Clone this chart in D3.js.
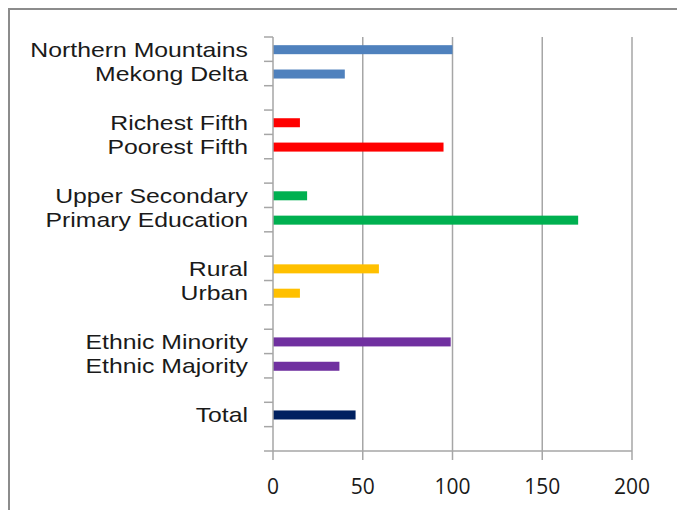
<!DOCTYPE html>
<html lang="en">
<head>
<meta charset="UTF-8">
<title>Bar chart</title>
<script src="https://d3js.org/d3.v7.min.js"></script>
<style>
    body { margin: 0; background: #fff; }
    .lbl { font-family: "Open Sans", Lato, sans-serif; font-size: 21px; fill: #1a1a1a; }
    .cat { font-family: "Liberation Sans", Arial, sans-serif; font-size: 21px; fill: #1a1a1a; }
</style>
</head>
<body>
<svg width="677" height="510"></svg>
<script>
    // categories top to bottom, blank slots separate the groups
    var categories = ["Northern Mountains", "Mekong Delta", "_g1",
                      "Richest Fifth", "Poorest Fifth", "_g2",
                      "Upper Secondary", "Primary Education", "_g3",
                      "Rural", "Urban", "_g4",
                      "Ethnic Minority", "Ethnic Majority", "_g5",
                      "Total", "_g6"];
    var values = [100, 40, null, 15, 95, null, 19, 170, null, 59, 15, null, 99, 37, null, 46, null];
    var colors = ["#4F81BD", "#4F81BD", null, "#FF0000", "#FF0000", null,
                  "#00B050", "#00B050", null, "#FFC000", "#FFC000", null,
                  "#7030A0", "#7030A0", null, "#002060", null];
    var xTicks = [0, 50, 100, 150, 200];

    var svg = d3.select("svg");

    // chart area frame
    svg.append("path")
       .attr("d", "M9,510 V9 H677")
       .attr("fill", "none")
       .attr("stroke", "#8c8c8c")
       .attr("stroke-width", 2);

    var x = d3.scaleLinear().domain([0, 200]).range([273, 632]);
    var y = d3.scaleBand().domain(categories).range([37, 451]).paddingInner(0.63).paddingOuter(0.315);
    var slot = d3.scaleBand().domain(categories).range([37, 451]);

    // vertical gridlines
    svg.append("g").selectAll("line")
       .data(xTicks.slice(1))
       .join("line")
       .attr("x1", function(d) { return x(d); })
       .attr("x2", function(d) { return x(d); })
       .attr("y1", 37).attr("y2", 451)
       .attr("stroke", "#a6a6a6").attr("stroke-width", 1.5);

    // bars
    var data = categories.map(function(c, i) { return { cat: c, v: values[i], color: colors[i] }; })
                         .filter(function(d) { return d.v !== null; });

    svg.append("g").selectAll("rect")
       .data(data)
       .join("rect")
       .attr("x", x(0))
       .attr("y", function(d) { return y(d.cat) + 0.5; })
       .attr("width", function(d) { return x(d.v) - x(0); })
       .attr("height", y.bandwidth())
       .attr("fill", function(d) { return d.color; });

    // y axis: line and ticks on slot boundaries
    var yTickPos = d3.range(categories.length + 1).map(function(i) { return 37 + i * slot.step(); });
    var yAxis = svg.append("g");
    yAxis.append("line").attr("x1", x(0)).attr("x2", x(0)).attr("y1", 37).attr("y2", 451)
         .attr("stroke", "#a6a6a6").attr("stroke-width", 1.5);
    yAxis.selectAll("line.tk")
         .data(yTickPos)
         .join("line").attr("class", "tk")
         .attr("x1", x(0) - 9).attr("x2", x(0))
         .attr("y1", function(d) { return d; }).attr("y2", function(d) { return d; })
         .attr("stroke", "#a6a6a6").attr("stroke-width", 1.5);

    // category labels, widened a little to match the stretched original
    yAxis.selectAll("text")
         .data(categories.filter(function(c) { return c.charAt(0) !== "_"; }))
         .join("text")
         .attr("class", "cat")
         .attr("x", 248)
         .attr("y", function(d) { return slot(d) + slot.step() / 2; })
         .attr("dy", "0.36em")
         .attr("text-anchor", "end")
         .text(function(d) { return d; })
         .each(function() {
             var w = this.getComputedTextLength();
             d3.select(this).attr("textLength", w * 1.18).attr("lengthAdjust", "spacingAndGlyphs");
         });

    // x axis
    var xAxis = svg.append("g");
    xAxis.append("line").attr("x1", x(0)).attr("x2", x(200)).attr("y1", 451).attr("y2", 451)
         .attr("stroke", "#a6a6a6").attr("stroke-width", 1.5);
    xAxis.selectAll("line.tk")
         .data(xTicks)
         .join("line").attr("class", "tk")
         .attr("x1", function(d) { return x(d); }).attr("x2", function(d) { return x(d); })
         .attr("y1", 451).attr("y2", 460)
         .attr("stroke", "#a6a6a6").attr("stroke-width", 1.5);
    xAxis.selectAll("text")
         .data(xTicks)
         .join("text")
         .attr("class", "lbl")
         .attr("x", function(d) { return x(d); })
         .attr("y", 494)
         .attr("text-anchor", "middle")
         .text(function(d) { return d; });
</script>
</body>
</html>
